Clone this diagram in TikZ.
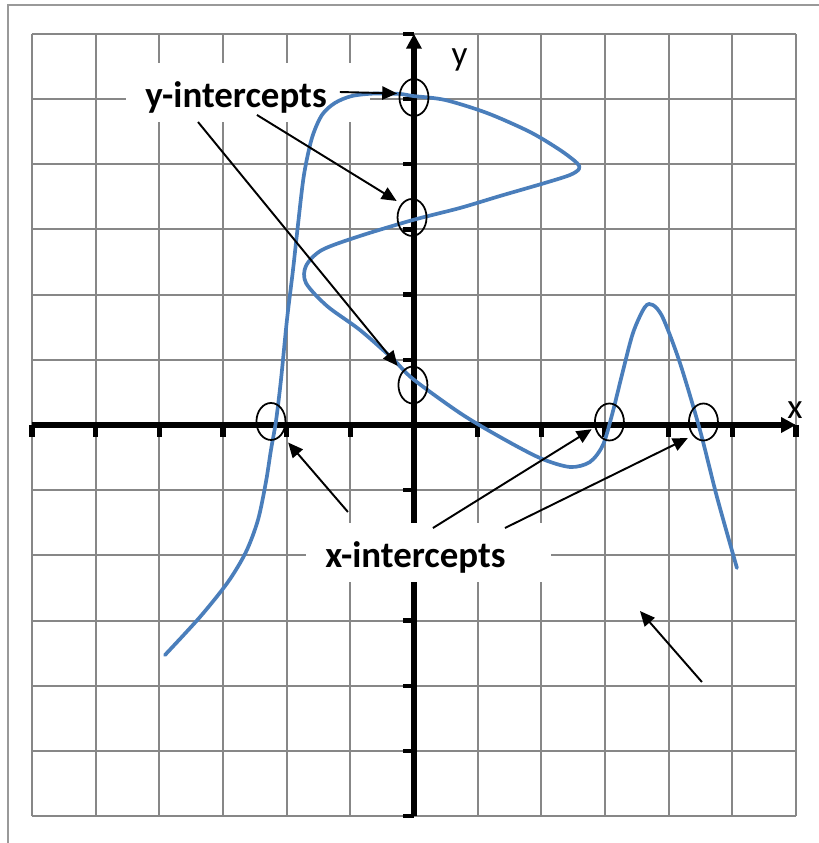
\documentclass[tikz,border=0pt]{standalone}
\usepackage{fontspec}
\newfontfamily\calfont{Carlito}
\usetikzlibrary{shapes.geometric, arrows.meta}
\definecolor{curveblue}{RGB}{74,126,187}

\begin{document}
\begin{tikzpicture}[x=1.2733cm, y=1.304cm,
    gridline/.style={black!47, line width=1.1pt},
    axisline/.style={line width=3.5pt, -{Triangle[length=8.5pt, width=8.5pt]}},
    curveline/.style={curveblue, line width=2.1pt, line join=round, line cap=round},
    icirc/.style={draw, ellipse, line width=1pt, minimum width=0.58cm, minimum height=0.74cm, inner sep=0pt},
    pointer/.style={line width=1.1pt, -{Triangle[length=8.5pt, width=7.5pt]}},
    bigtext/.style={font=\calfont\bfseries\fontsize{21}{24}\selectfont, inner sep=0pt, anchor=base west},
    axname/.style={font=\calfont\fontsize{20}{22}\selectfont, inner sep=0pt, anchor=base}]
    \useasboundingbox (-6.502,-6.411) rectangle (6.361,6.518);

    % frame and grid
    \draw[black!40, line width=1.1pt] (6.361,6.442) -- (-6.377,6.442) -- (-6.377,-6.411);
    \foreach \i in {-6,...,6} {
        \draw[gridline] (\i,-6) -- (\i,6);
        \draw[gridline] (-6,\i) -- (6,\i);
    }

    % axes
    \draw[axisline] (-6,0) -- (6,0);
    \draw[axisline] (0,-6) -- (0,6);
    \foreach \i in {-6,...,6} {
        \draw[line width=3pt] (\i,0) -- (\i,-0.18);
        \draw[line width=2.5pt] (0,\i) -- (-0.17,\i);
    }

    % label backgrounds
    \fill[white] (-4.523,4.647) rectangle (-0.691,5.552);
    \fill[white] (-1.696,-2.408) rectangle (2.152,-1.503);

    % the curve
    \draw[curveline] plot[smooth, tension=0.5] coordinates {
        (-3.911,-3.528) (-3.361,-2.945) (-2.921,-2.408) (-2.639,-1.948)
        (-2.450,-1.457) (-2.325,-0.874) (-2.246,-0.383) (-2.167,0.061)
        (-2.089,0.690)
        (-1.995,1.610) (-1.900,2.377) (-1.822,3.067) (-1.728,3.834)
        (-1.602,4.402) (-1.445,4.755) (-1.241,4.939) (-0.974,5.046)
        (-0.613,5.084) (-0.220,5.077) (-0.016,5.046) (0.487,4.985)
        (1.147,4.785) (1.822,4.494) (2.293,4.218) (2.560,4.018)
        (2.592,3.926) (2.450,3.834) (2.057,3.712) (1.351,3.512)
        (0.722,3.328) (-0.016,3.144) (-0.848,2.899) (-1.445,2.684)
        (-1.696,2.439) (-1.696,2.178) (-1.366,1.825) (-0.848,1.457)
        (-0.330,1.012) (-0.016,0.706) (0.722,0.184) (1.351,-0.184)
        (1.979,-0.506) (2.450,-0.644) (2.764,-0.567) (2.968,-0.307)
        (3.110,0.153) (3.267,0.767) (3.440,1.411) (3.628,1.810)
        (3.754,1.840) (3.911,1.641) (4.178,0.951) (4.492,-0.077)
        (4.759,-1.104) (5.073,-2.193)};

    % intercept circles
    \node[icirc] (yint1) at (0,5.023) {};
    \node[icirc] (yint2) at (-0.03,3.183) {};
    \node[icirc] (yint3) at (-0.016,0.613) {};
    \node[icirc] (xint1) at (-2.246,0.054) {};
    \node[icirc] (xint2) at (3.07,0.046) {};
    \node[icirc] (xint3) at (4.547,0.046) {};

    % texts
    \node[bigtext] (ylabel) at (-4.225,4.862) {y-intercepts};
    \node[bigtext] (xlabel) at (-1.398,-2.193) {x-intercepts};
    \node[axname] (xname) at (5.984,0.107) {x};
    \node[axname] (yname) at (0.715,5.506) {y};

    % pointers
    \coordinate (p1) at (-1.162,5.107);
    \coordinate (p2) at (-2.466,4.755);
    \coordinate (p3) at (-3.392,4.647);
    \coordinate (p4) at (-1.037,-1.334);
    \coordinate (p5) at (0.298,-1.580);
    \coordinate (p6) at (1.429,-1.580);
    \coordinate (p7) at (4.523,-3.942);
    \coordinate (p8) at (3.550,-2.853);
    \draw[pointer, shorten >=1pt] (p1) -- (yint1.165);
    \draw[pointer, shorten >=3pt] (p2) -- (yint2.north west);
    \draw[pointer, shorten >=4pt] (p3) -- (yint3.north west);
    \draw[pointer, shorten >=5.5pt] (p4) -- (xint1.south east);
    \draw[pointer, shorten >=2pt] (p5) -- (xint2.200);
    \draw[pointer, shorten >=3pt] (p6) -- (xint3.south west);
    \draw[pointer] (p7) -- (p8);
\end{tikzpicture}
\end{document}
